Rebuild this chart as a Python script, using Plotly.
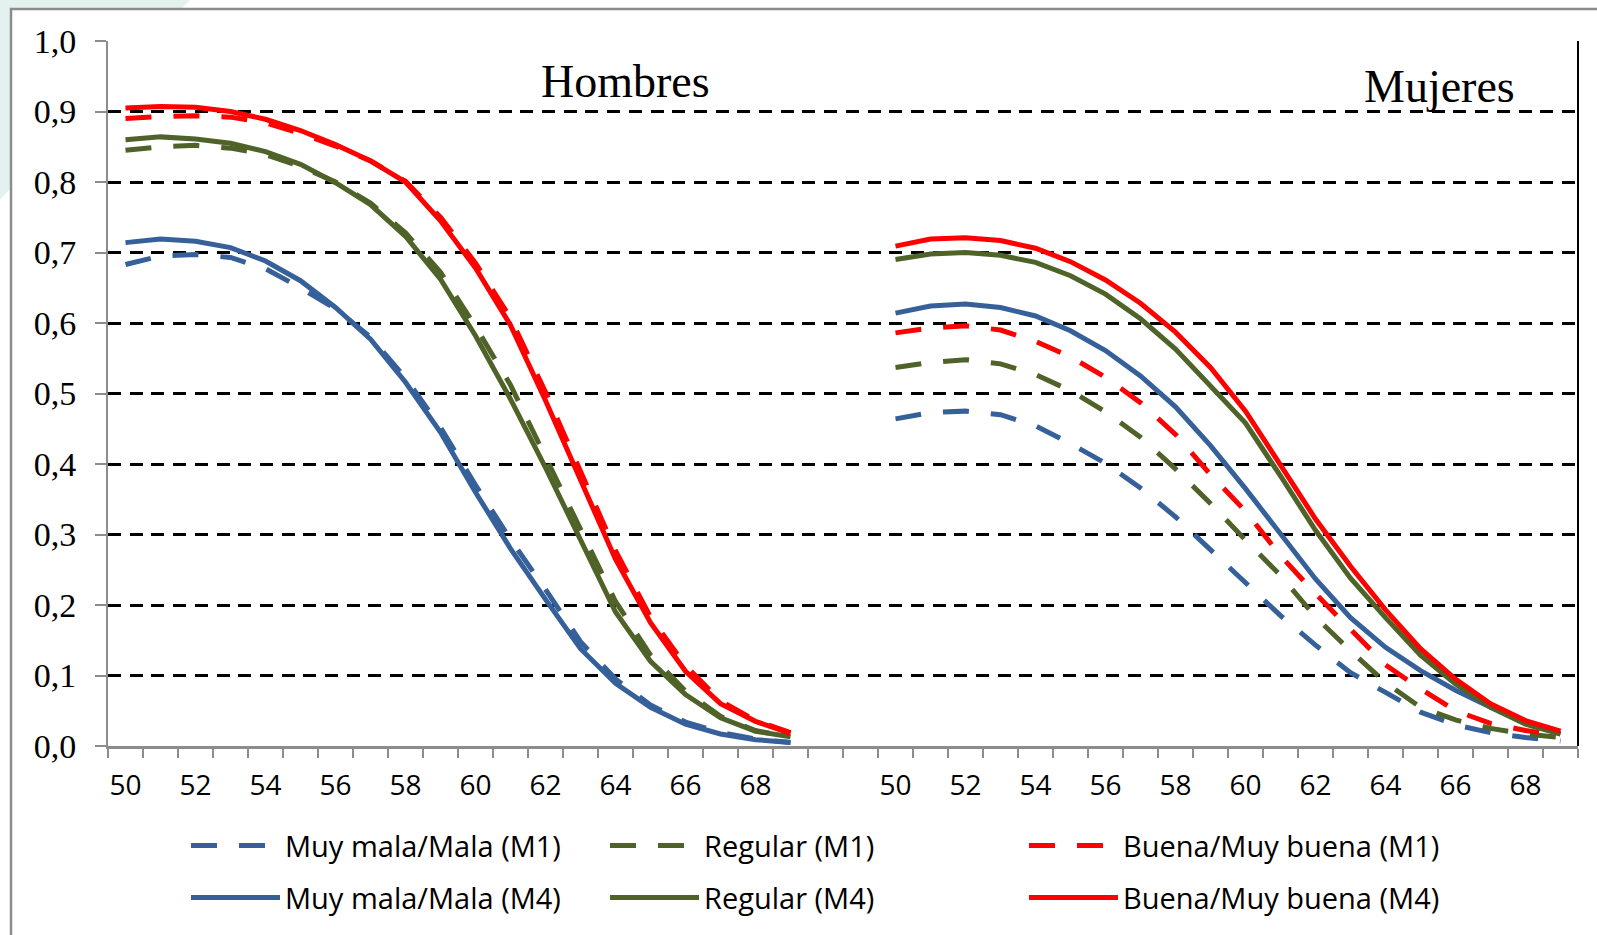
import plotly.graph_objects as go

# ---------------- data ----------------
ages = list(range(50, 70))
tick_ages = list(range(50, 70, 2))
gap_categories = 2

y_tickvals = [0.0, 0.1, 0.2, 0.3, 0.4, 0.5, 0.6, 0.7, 0.8, 0.9, 1.0]
y_ticktext = ["0,0", "0,1", "0,2", "0,3", "0,4", "0,5", "0,6", "0,7", "0,8", "0,9", "1,0"]

series_names = ["Muy mala/Mala (M1)", "Regular (M1)", "Buena/Muy buena (M1)",
                "Muy mala/Mala (M4)", "Regular (M4)", "Buena/Muy buena (M4)"]

# Hombres
h_mala_m1 = [0.683, 0.695, 0.697, 0.693, 0.677, 0.650, 0.620, 0.580, 0.522, 0.452,
             0.370, 0.293, 0.222, 0.148, 0.095, 0.058, 0.034, 0.019, 0.010, 0.005]
h_regular_m1 = [0.845, 0.850, 0.852, 0.848, 0.839, 0.822, 0.800, 0.770, 0.728, 0.672,
                0.595, 0.512, 0.410, 0.308, 0.205, 0.129, 0.078, 0.042, 0.022, 0.012]
h_buena_m1 = [0.890, 0.893, 0.894, 0.892, 0.884, 0.869, 0.851, 0.830, 0.801, 0.750,
              0.685, 0.607, 0.502, 0.390, 0.277, 0.183, 0.114, 0.064, 0.036, 0.019]
h_mala_m4 = [0.714, 0.719, 0.716, 0.707, 0.688, 0.660, 0.622, 0.577, 0.516, 0.445,
             0.360, 0.280, 0.208, 0.138, 0.089, 0.055, 0.031, 0.017, 0.009, 0.005]
h_regular_m4 = [0.860, 0.864, 0.861, 0.855, 0.843, 0.825, 0.799, 0.768, 0.723, 0.662,
                0.582, 0.492, 0.395, 0.294, 0.190, 0.120, 0.073, 0.040, 0.021, 0.013]
h_buena_m4 = [0.905, 0.907, 0.906, 0.900, 0.889, 0.873, 0.853, 0.830, 0.800, 0.745,
              0.678, 0.597, 0.490, 0.378, 0.265, 0.175, 0.106, 0.060, 0.035, 0.018]

# Mujeres
m_mala_m1 = [0.464, 0.473, 0.475, 0.470, 0.454, 0.429, 0.401, 0.366, 0.325, 0.279,
             0.232, 0.185, 0.143, 0.104, 0.076, 0.048, 0.030, 0.019, 0.012, 0.007]
m_regular_m1 = [0.537, 0.544, 0.548, 0.542, 0.527, 0.504, 0.474, 0.438, 0.393, 0.344,
                0.292, 0.242, 0.183, 0.135, 0.090, 0.055, 0.037, 0.025, 0.017, 0.012]
m_buena_m1 = [0.586, 0.593, 0.596, 0.590, 0.574, 0.552, 0.523, 0.487, 0.442, 0.385,
              0.333, 0.270, 0.216, 0.165, 0.115, 0.081, 0.050, 0.032, 0.022, 0.015]
m_mala_m4 = [0.614, 0.624, 0.627, 0.622, 0.610, 0.589, 0.561, 0.525, 0.481, 0.426,
             0.365, 0.300, 0.237, 0.182, 0.140, 0.107, 0.079, 0.055, 0.035, 0.017]
m_regular_m4 = [0.690, 0.698, 0.700, 0.696, 0.686, 0.667, 0.641, 0.606, 0.563, 0.511,
                0.458, 0.383, 0.306, 0.238, 0.182, 0.129, 0.088, 0.055, 0.031, 0.017]
m_buena_m4 = [0.709, 0.719, 0.721, 0.717, 0.706, 0.687, 0.661, 0.628, 0.587, 0.537,
              0.475, 0.397, 0.322, 0.255, 0.193, 0.138, 0.095, 0.060, 0.036, 0.021]

# ---------------- styling ----------------
BLUE = "#36609A"
GREEN = "#4F6228"
RED = "#FF0000"
AXIS_GRAY = "#8C8C8C"
DASH = "26px,22px"

n = len(ages)
idx_h = list(range(n))
idx_m = [n + gap_categories + i for i in range(n)]
n_total = n * 2 + gap_categories

tickvals = [idx_h[ages.index(a)] for a in tick_ages] + [idx_m[ages.index(a)] for a in tick_ages]
ticktext = [str(a) for a in tick_ages] * 2

series = [
    (h_mala_m1, m_mala_m1, BLUE, DASH, "legend"),
    (h_regular_m1, m_regular_m1, GREEN, DASH, "legend"),
    (h_buena_m1, m_buena_m1, RED, DASH, "legend"),
    (h_mala_m4, m_mala_m4, BLUE, "solid", "legend2"),
    (h_regular_m4, m_regular_m4, GREEN, "solid", "legend2"),
    (h_buena_m4, m_buena_m4, RED, "solid", "legend2"),
]

fig = go.Figure()
for name, (hv, mv, color, dash, leg) in zip(series_names, series):
    fig.add_trace(go.Scatter(
        x=idx_h + [None] + idx_m,
        y=hv + [None] + mv,
        mode="lines",
        name=name,
        line=dict(color=color, width=5, dash=dash),
        connectgaps=False,
        legend=leg,
    ))

W, H = 1597, 935
L, R, T, B = 108, 19, 41, 187
pw, ph = W - L - R, H - T - B


def px_x(p):
    return (p - L) / pw


def px_y(p):
    return (H - B - p) / ph


legend_common = dict(
    orientation="h",
    xanchor="left",
    yanchor="middle",
    x=px_x(186),
    itemwidth=89,
    entrywidth=315,
    font=dict(family="Open Sans", size=29, color="black"),
    bgcolor="rgba(0,0,0,0)",
    traceorder="normal",
)

fig.update_layout(
    width=W,
    height=H,
    margin=dict(l=L, r=R, t=T, b=B),
    paper_bgcolor="white",
    plot_bgcolor="white",
    showlegend=True,
    legend=dict(legend_common, y=px_y(848)),
    legend2=dict(legend_common, y=px_y(900)),
    xaxis=dict(
        range=[-0.5, n_total - 0.5],
        tickmode="array",
        tickvals=tickvals,
        ticktext=ticktext,
        ticks="",
        showgrid=False,
        zeroline=False,
        showline=True,
        linecolor=AXIS_GRAY,
        linewidth=3,
        tickfont=dict(family="Open Sans", size=28, color="black"),
        ticklabelstandoff=12,
        minor=dict(
            tick0=-0.5,
            dtick=1,
            ticks="outside",
            ticklen=9,
            tickwidth=2,
            tickcolor=AXIS_GRAY,
            showgrid=False,
        ),
    ),
    yaxis=dict(
        range=[0, 1],
        tickmode="array",
        tickvals=y_tickvals,
        ticktext=y_ticktext,
        ticks="outside",
        ticklen=11,
        tickwidth=2,
        tickcolor=AXIS_GRAY,
        showline=True,
        linecolor=AXIS_GRAY,
        linewidth=2,
        zeroline=False,
        showgrid=True,
        gridcolor="black",
        gridwidth=2.5,
        griddash="13px,8.7px",
        tickfont=dict(family="Liberation Serif", size=34, color="black"),
        ticklabelstandoff=12,
    ),
    shapes=[
        # light decorative corner
        dict(type="path", xref="paper", yref="paper", layer="below",
             path=f"M {px_x(0)},{px_y(0)} L {px_x(190)},{px_y(0)} L {px_x(0)},{px_y(200)} Z",
             fillcolor="#E4F2EF", line=dict(width=0)),
        # outer frame
        dict(type="rect", xref="paper", yref="paper", layer="below",
             x0=px_x(11), x1=px_x(1605), y0=px_y(945), y1=px_y(9),
             fillcolor="white", line=dict(color=AXIS_GRAY, width=2.5)),
        # right border of plot area
        dict(type="line", xref="paper", yref="paper", layer="above",
             x0=1, x1=1, y0=0, y1=1, line=dict(color="black", width=2)),
    ],
    annotations=[
        dict(text="Hombres", xref="paper", yref="paper", x=px_x(625), y=px_y(82),
             xanchor="center", yanchor="middle", showarrow=False,
             font=dict(family="Liberation Serif", size=46, color="black")),
        dict(text="Mujeres", xref="paper", yref="paper", x=px_x(1439), y=px_y(87),
             xanchor="center", yanchor="middle", showarrow=False,
             font=dict(family="Liberation Serif", size=46, color="black")),
    ],
)

fig.write_html(
    "out.html",
    config={"displayModeBar": False},
    post_script="document.body.style.margin='0';document.body.style.overflow='hidden';",
)
